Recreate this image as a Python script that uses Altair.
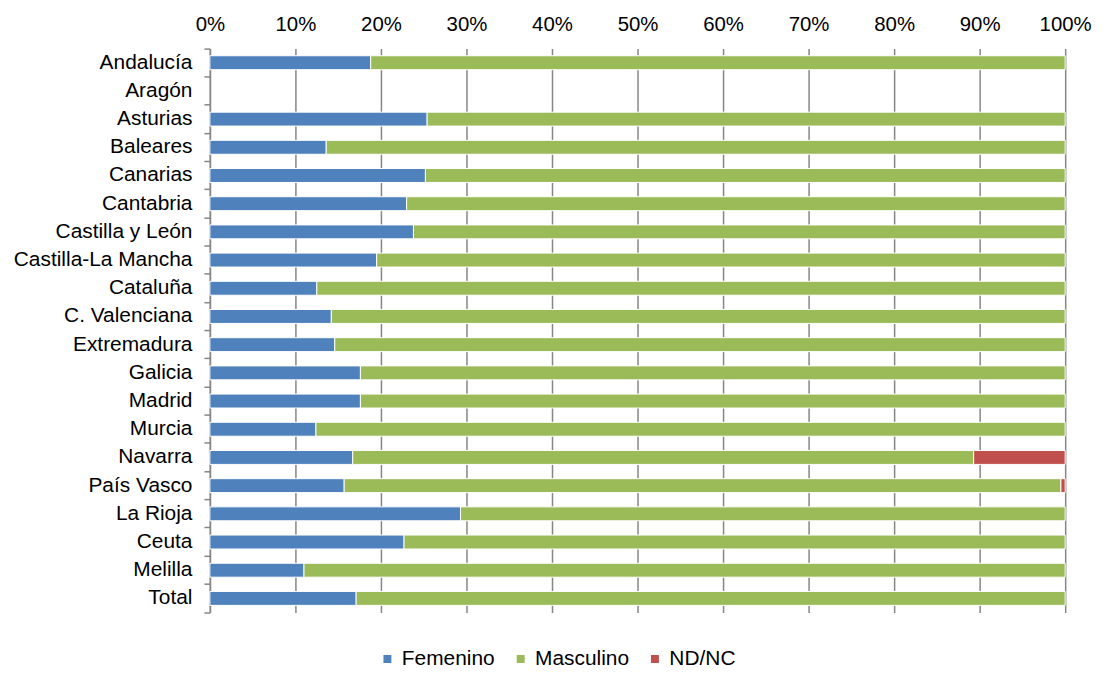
import altair as alt
import pandas as pd

regions = ["Andalucía", "Aragón", "Asturias", "Baleares", "Canarias", "Cantabria",
           "Castilla y León", "Castilla-La Mancha", "Cataluña", "C. Valenciana",
           "Extremadura", "Galicia", "Madrid", "Murcia", "Navarra", "País Vasco",
           "La Rioja", "Ceuta", "Melilla", "Total"]
femenino = [18.8, 0, 25.4, 13.6, 25.2, 23.0, 23.8, 19.5, 12.5, 14.2,
            14.6, 17.6, 17.6, 12.4, 16.7, 15.7, 29.3, 22.7, 11.0, 17.1]
masculino = [81.2, 0, 74.6, 86.4, 74.8, 77.0, 76.2, 80.5, 87.5, 85.8,
             85.4, 82.4, 82.4, 87.6, 72.6, 83.8, 70.7, 77.3, 89.0, 82.9]
ndnc = [0, 0, 0, 0, 0, 0, 0, 0, 0, 0,
        0, 0, 0, 0, 10.7, 0.5, 0, 0, 0, 0]
series = ["Femenino", "Masculino", "ND/NC"]
colors = ["#4F81BD", "#9BBB59", "#C0504D"]

rows = []
for i, r in enumerate(regions):
    for k, (s, vals) in enumerate(zip(series, [femenino, masculino, ndnc])):
        if vals[i] > 0:
            rows.append({"region": r, "serie": s, "valor": vals[i], "orden": k})
df = pd.DataFrame(rows)

FONT = "Liberation Sans"

chart = alt.Chart(df).mark_bar(size=14, stroke="white", strokeWidth=1).encode(
    x=alt.X("valor:Q", stack="zero",
            scale=alt.Scale(domain=[0, 100], nice=False),
            axis=alt.Axis(orient="top", values=list(range(0, 101, 10)),
                          labelExpr="datum.value + '%'", title=None,
                          labelFontSize=20.5, labelColor="#000000", labelFont=FONT,
                          labelFlush=False, labelOverlap=False,
                          ticks=False, domain=False, grid=True,
                          gridColor="#868686", gridWidth=1.5, labelPadding=14)),
    y=alt.Y("region:N", scale=alt.Scale(domain=regions, paddingInner=0, paddingOuter=0),
            axis=alt.Axis(title=None, labelFontSize=21, labelColor="#000000",
                          labelFont=FONT, labelPadding=12,
                          bandPosition=1, tickExtra=True, tickSize=6,
                          tickColor="#868686", tickWidth=1.5,
                          domainColor="#868686", domainWidth=1.5, grid=False)),
    color=alt.Color("serie:N", scale=alt.Scale(domain=series, range=colors),
                    legend=alt.Legend(title=None, orient="none", direction="horizontal",
                                      legendX=168, legendY=603,
                                      symbolType="square", symbolSize=64,
                                      symbolStrokeWidth=0,
                                      labelFontSize=21, labelFont=FONT,
                                      labelColor="#000000", columnPadding=15,
                                      labelOffset=4)),
    order=alt.Order("orden:Q", sort="ascending"),
).properties(width=860, height=567).configure_view(stroke=None)

chart.save("out.html", embed_options={"renderer": "svg", "actions": False})
